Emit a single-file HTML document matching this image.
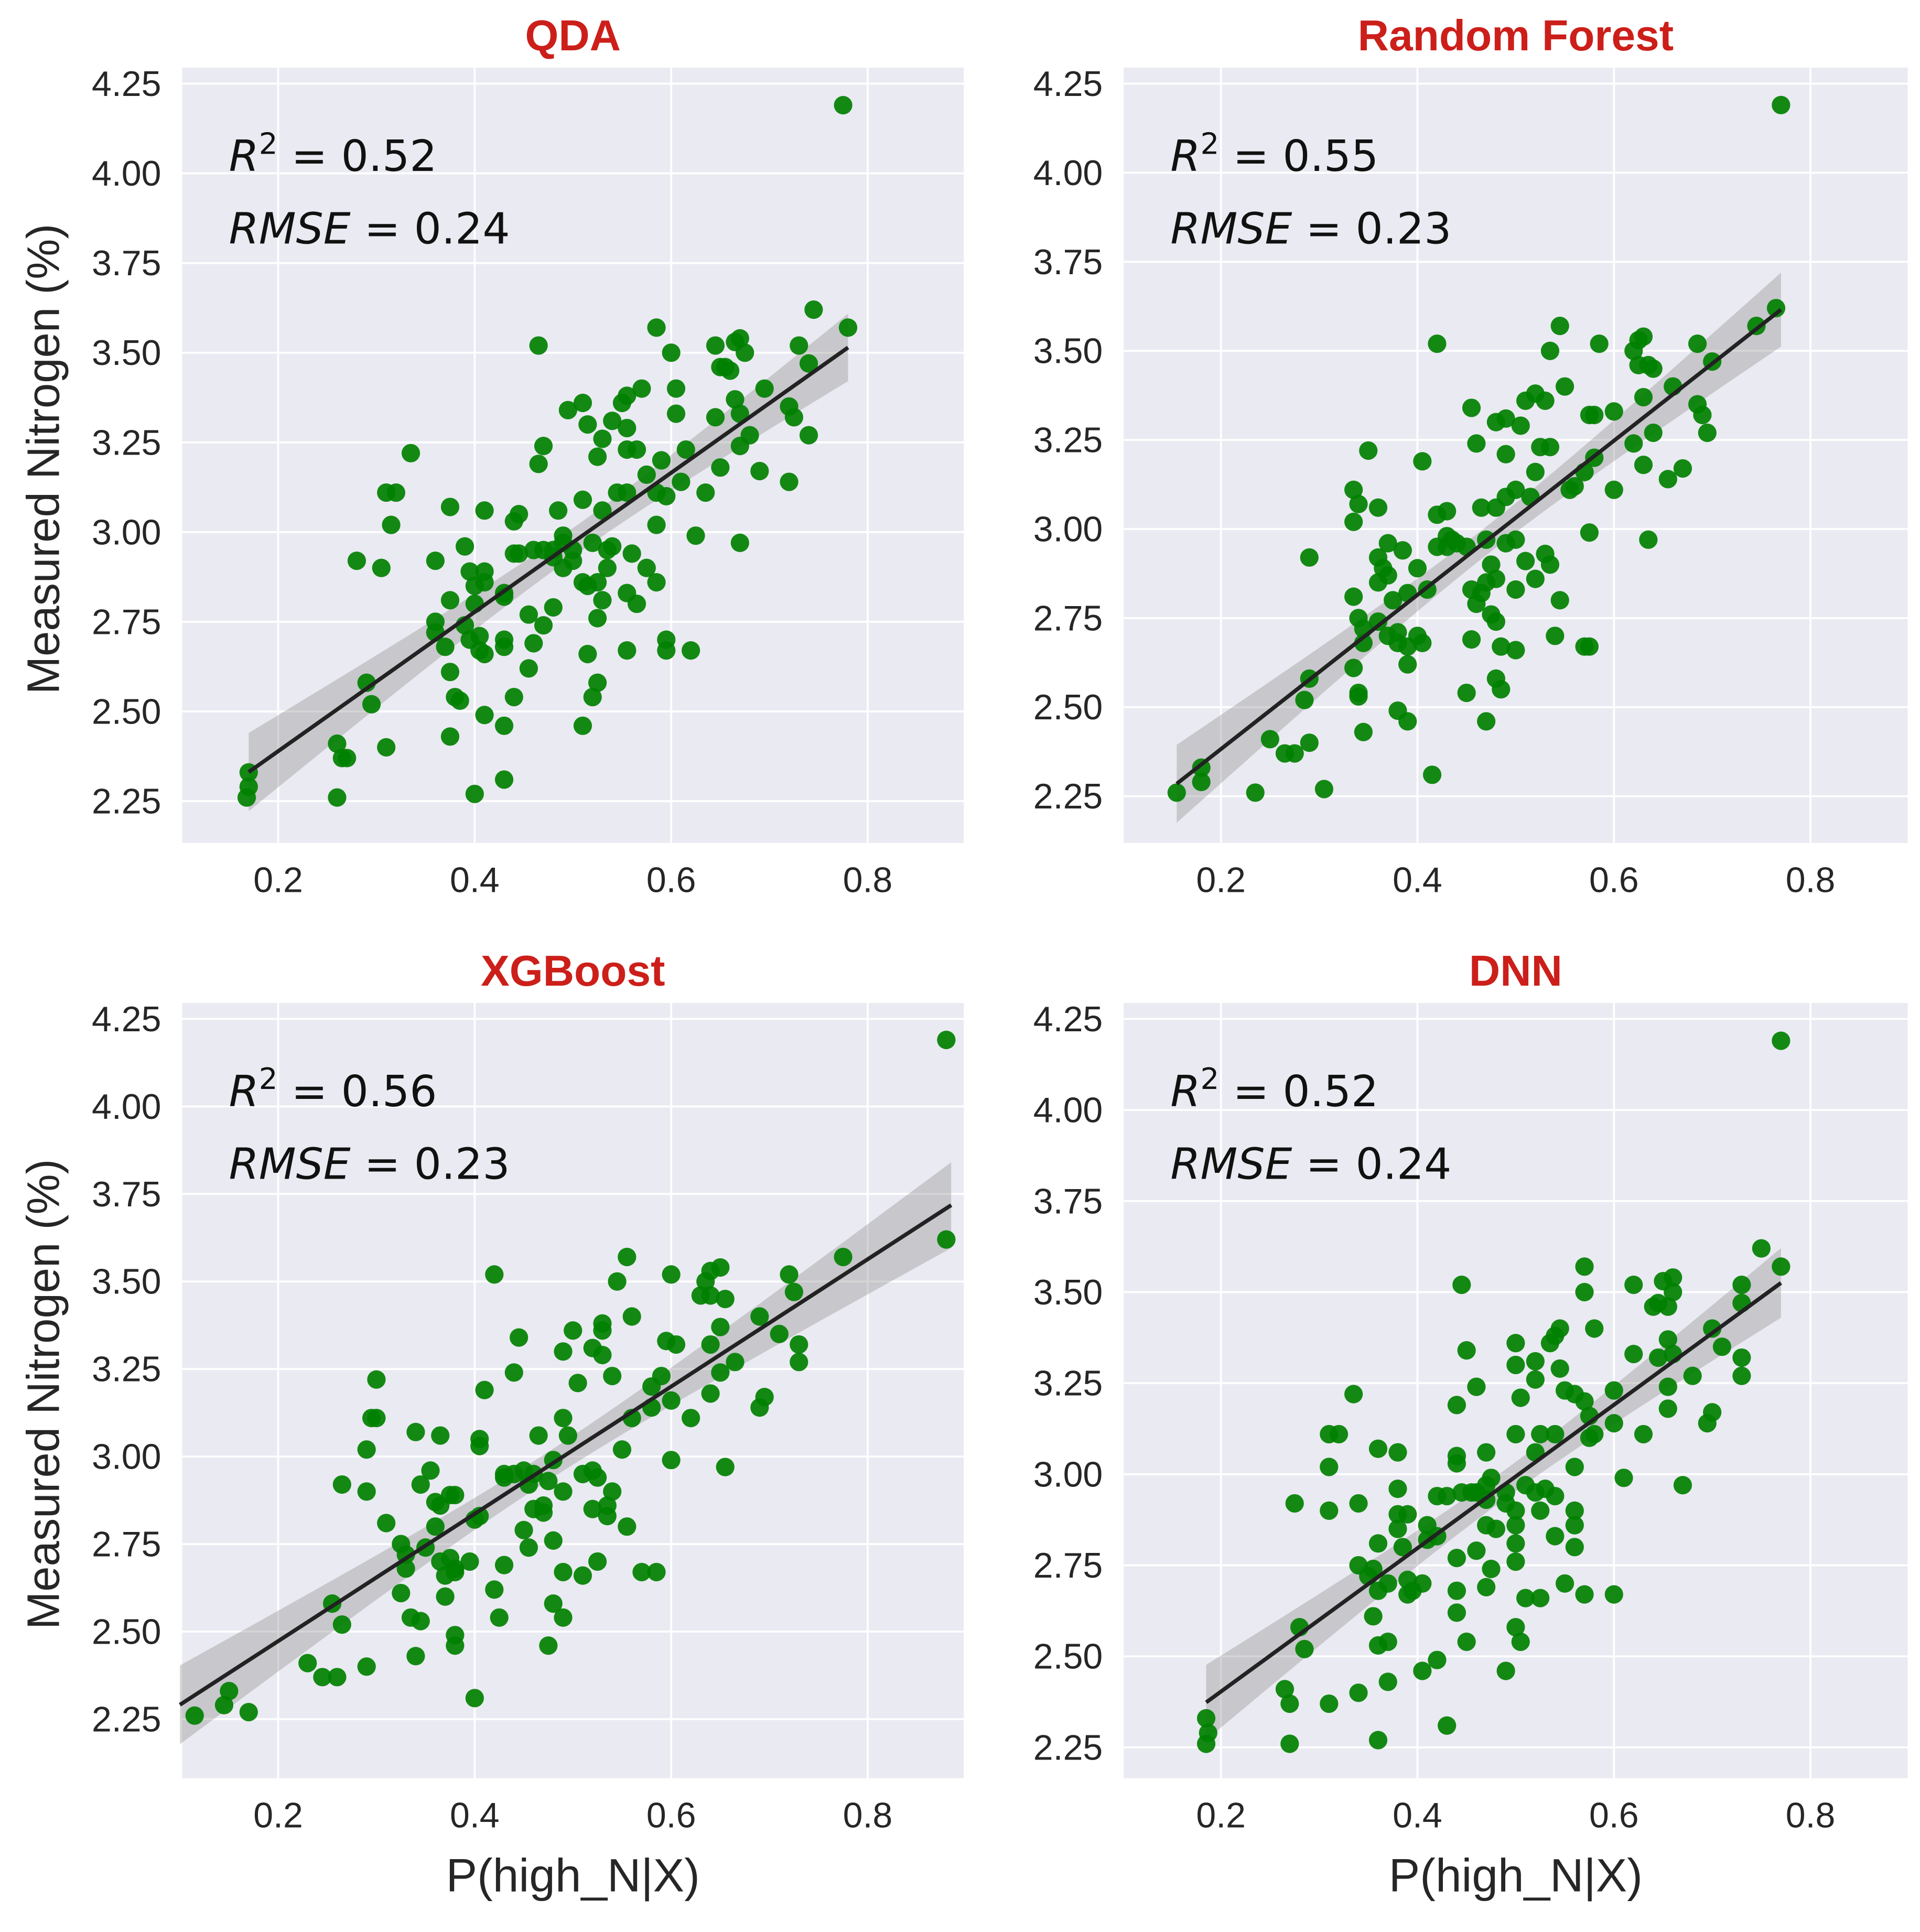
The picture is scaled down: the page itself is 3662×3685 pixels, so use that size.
<!DOCTYPE html>
<html><head><meta charset="utf-8"><style>
html,body{margin:0;padding:0;background:#fff}
svg{display:block}
text{font-family:"Liberation Sans","DejaVu Sans",sans-serif}
text.ann{font-family:"DejaVu Sans",sans-serif}
</style></head><body>
<svg id="fig" width="3662" height="3685" viewBox="0 0 1560 1570" preserveAspectRatio="none" xmlns="http://www.w3.org/2000/svg"></svg>
<script>
const qdaPts=[[0.775,4.19],[0.745,3.62],[0.78,3.57],[0.585,3.57],[0.465,3.52],[0.645,3.52],[0.665,3.53],[0.67,3.54],[0.675,3.50],[0.6,3.50],[0.73,3.52],[0.74,3.47],[0.65,3.46],[0.66,3.45],[0.655,3.46],[0.695,3.40],[0.605,3.40],[0.57,3.40],[0.555,3.38],[0.55,3.36],[0.51,3.36],[0.495,3.34],[0.605,3.33],[0.645,3.32],[0.665,3.37],[0.67,3.33],[0.72,3.35],[0.725,3.32],[0.74,3.27],[0.515,3.30],[0.54,3.31],[0.555,3.29],[0.53,3.26],[0.68,3.27],[0.67,3.24],[0.615,3.23],[0.555,3.23],[0.565,3.23],[0.47,3.24],[0.525,3.21],[0.465,3.19],[0.59,3.20],[0.575,3.16],[0.65,3.18],[0.69,3.17],[0.72,3.14],[0.61,3.14],[0.585,3.11],[0.545,3.11],[0.555,3.11],[0.595,3.10],[0.635,3.11],[0.51,3.09],[0.335,3.22],[0.31,3.11],[0.32,3.11],[0.315,3.02],[0.375,3.07],[0.41,3.06],[0.445,3.05],[0.44,3.03],[0.485,3.06],[0.53,3.06],[0.585,3.02],[0.625,2.99],[0.67,2.97],[0.49,2.99],[0.49,2.97],[0.48,2.95],[0.46,2.95],[0.47,2.95],[0.5,2.95],[0.52,2.97],[0.535,2.95],[0.54,2.96],[0.56,2.94],[0.44,2.94],[0.445,2.94],[0.39,2.96],[0.28,2.92],[0.305,2.90],[0.36,2.92],[0.395,2.89],[0.41,2.89],[0.4,2.85],[0.41,2.86],[0.48,2.93],[0.5,2.92],[0.49,2.90],[0.535,2.90],[0.575,2.90],[0.585,2.86],[0.51,2.86],[0.515,2.85],[0.525,2.86],[0.53,2.81],[0.555,2.83],[0.565,2.80],[0.375,2.81],[0.4,2.80],[0.43,2.82],[0.43,2.83],[0.48,2.79],[0.455,2.77],[0.47,2.74],[0.36,2.75],[0.36,2.72],[0.39,2.74],[0.395,2.70],[0.405,2.71],[0.405,2.67],[0.41,2.66],[0.43,2.70],[0.43,2.68],[0.37,2.68],[0.46,2.69],[0.525,2.76],[0.515,2.66],[0.555,2.67],[0.595,2.70],[0.595,2.67],[0.62,2.67],[0.375,2.61],[0.455,2.62],[0.38,2.54],[0.385,2.53],[0.44,2.54],[0.525,2.58],[0.52,2.54],[0.29,2.58],[0.295,2.52],[0.41,2.49],[0.43,2.46],[0.51,2.46],[0.375,2.43],[0.26,2.41],[0.265,2.37],[0.27,2.37],[0.31,2.40],[0.17,2.33],[0.17,2.29],[0.168,2.26],[0.26,2.26],[0.4,2.27],[0.43,2.31]];
const rfPts=[[0.77,4.19],[0.765,3.62],[0.745,3.57],[0.545,3.57],[0.42,3.52],[0.585,3.52],[0.625,3.53],[0.63,3.54],[0.62,3.50],[0.535,3.50],[0.685,3.52],[0.7,3.47],[0.625,3.46],[0.635,3.46],[0.64,3.45],[0.66,3.40],[0.55,3.40],[0.52,3.38],[0.51,3.36],[0.53,3.36],[0.455,3.34],[0.6,3.33],[0.575,3.32],[0.58,3.32],[0.63,3.37],[0.685,3.35],[0.69,3.32],[0.695,3.27],[0.48,3.30],[0.49,3.31],[0.505,3.29],[0.64,3.27],[0.62,3.24],[0.535,3.23],[0.525,3.23],[0.46,3.24],[0.49,3.21],[0.405,3.19],[0.58,3.20],[0.57,3.16],[0.63,3.18],[0.67,3.17],[0.655,3.14],[0.6,3.11],[0.555,3.11],[0.56,3.12],[0.5,3.11],[0.52,3.16],[0.515,3.09],[0.35,3.22],[0.335,3.11],[0.34,3.07],[0.335,3.02],[0.36,3.06],[0.42,3.04],[0.43,3.05],[0.465,3.06],[0.48,3.06],[0.49,3.09],[0.575,2.99],[0.635,2.97],[0.43,2.98],[0.44,2.96],[0.45,2.95],[0.42,2.95],[0.47,2.97],[0.49,2.96],[0.5,2.97],[0.53,2.93],[0.37,2.96],[0.385,2.94],[0.29,2.92],[0.36,2.92],[0.365,2.89],[0.37,2.87],[0.36,2.85],[0.4,2.89],[0.43,2.95],[0.435,2.97],[0.475,2.90],[0.51,2.91],[0.535,2.90],[0.52,2.86],[0.48,2.86],[0.47,2.85],[0.465,2.82],[0.46,2.79],[0.455,2.83],[0.5,2.83],[0.545,2.80],[0.335,2.81],[0.375,2.80],[0.39,2.82],[0.41,2.83],[0.475,2.76],[0.48,2.74],[0.455,2.69],[0.34,2.75],[0.345,2.72],[0.36,2.74],[0.37,2.70],[0.38,2.71],[0.38,2.68],[0.39,2.67],[0.4,2.70],[0.405,2.68],[0.345,2.68],[0.5,2.66],[0.485,2.67],[0.57,2.67],[0.575,2.67],[0.54,2.70],[0.39,2.62],[0.335,2.61],[0.48,2.58],[0.485,2.55],[0.45,2.54],[0.29,2.58],[0.285,2.52],[0.38,2.49],[0.39,2.46],[0.47,2.46],[0.345,2.43],[0.25,2.41],[0.265,2.37],[0.275,2.37],[0.29,2.40],[0.18,2.33],[0.18,2.29],[0.155,2.26],[0.235,2.26],[0.305,2.27],[0.415,2.31],[0.34,2.53],[0.34,2.54]];
const xgbPts=[[0.88,4.19],[0.88,3.62],[0.775,3.57],[0.555,3.57],[0.42,3.52],[0.6,3.52],[0.64,3.53],[0.65,3.54],[0.635,3.50],[0.545,3.50],[0.72,3.52],[0.725,3.47],[0.63,3.46],[0.64,3.46],[0.655,3.45],[0.69,3.40],[0.56,3.40],[0.53,3.38],[0.53,3.36],[0.5,3.36],[0.445,3.34],[0.595,3.33],[0.64,3.32],[0.605,3.32],[0.65,3.37],[0.71,3.35],[0.73,3.32],[0.73,3.27],[0.49,3.30],[0.52,3.31],[0.53,3.29],[0.665,3.27],[0.65,3.24],[0.59,3.23],[0.54,3.23],[0.44,3.24],[0.505,3.21],[0.41,3.19],[0.58,3.20],[0.6,3.16],[0.58,3.14],[0.64,3.18],[0.695,3.17],[0.69,3.14],[0.62,3.11],[0.56,3.11],[0.49,3.11],[0.3,3.22],[0.295,3.11],[0.3,3.11],[0.29,3.02],[0.34,3.07],[0.365,3.06],[0.405,3.05],[0.405,3.03],[0.465,3.06],[0.495,3.06],[0.55,3.02],[0.6,2.99],[0.655,2.97],[0.48,2.99],[0.45,2.96],[0.44,2.95],[0.43,2.95],[0.46,2.95],[0.51,2.95],[0.52,2.96],[0.525,2.94],[0.355,2.96],[0.265,2.92],[0.29,2.90],[0.345,2.92],[0.38,2.89],[0.375,2.89],[0.36,2.87],[0.365,2.86],[0.43,2.94],[0.475,2.93],[0.455,2.92],[0.49,2.90],[0.54,2.90],[0.535,2.86],[0.47,2.86],[0.46,2.85],[0.47,2.84],[0.52,2.85],[0.535,2.83],[0.555,2.80],[0.31,2.81],[0.36,2.80],[0.4,2.82],[0.405,2.83],[0.45,2.79],[0.48,2.76],[0.455,2.74],[0.325,2.75],[0.33,2.72],[0.35,2.74],[0.365,2.70],[0.375,2.71],[0.38,2.68],[0.38,2.67],[0.395,2.70],[0.43,2.69],[0.33,2.68],[0.49,2.67],[0.51,2.66],[0.57,2.67],[0.585,2.67],[0.525,2.70],[0.37,2.66],[0.325,2.61],[0.42,2.62],[0.335,2.54],[0.345,2.53],[0.425,2.54],[0.48,2.58],[0.49,2.54],[0.255,2.58],[0.265,2.52],[0.38,2.49],[0.38,2.46],[0.475,2.46],[0.34,2.43],[0.23,2.41],[0.245,2.37],[0.26,2.37],[0.29,2.40],[0.15,2.33],[0.145,2.29],[0.115,2.26],[0.17,2.27],[0.4,2.31],[0.37,2.60]];
const dnnPts=[[0.77,4.19],[0.75,3.62],[0.77,3.57],[0.57,3.57],[0.445,3.52],[0.62,3.52],[0.65,3.53],[0.66,3.54],[0.66,3.50],[0.57,3.50],[0.73,3.52],[0.73,3.47],[0.64,3.46],[0.645,3.47],[0.655,3.46],[0.70,3.40],[0.58,3.40],[0.545,3.40],[0.54,3.38],[0.535,3.36],[0.5,3.36],[0.45,3.34],[0.62,3.33],[0.645,3.32],[0.655,3.37],[0.66,3.33],[0.71,3.35],[0.73,3.32],[0.73,3.27],[0.5,3.30],[0.52,3.31],[0.545,3.29],[0.52,3.26],[0.68,3.27],[0.655,3.24],[0.6,3.23],[0.55,3.23],[0.56,3.22],[0.46,3.24],[0.505,3.21],[0.44,3.19],[0.57,3.20],[0.575,3.16],[0.655,3.18],[0.7,3.17],[0.695,3.14],[0.6,3.14],[0.58,3.11],[0.525,3.11],[0.54,3.11],[0.575,3.10],[0.63,3.11],[0.5,3.11],[0.335,3.22],[0.31,3.11],[0.32,3.11],[0.31,3.02],[0.36,3.07],[0.38,3.06],[0.44,3.05],[0.44,3.03],[0.47,3.06],[0.52,3.06],[0.56,3.02],[0.61,2.99],[0.67,2.97],[0.475,2.99],[0.47,2.97],[0.46,2.95],[0.445,2.95],[0.455,2.95],[0.49,2.95],[0.51,2.97],[0.52,2.95],[0.53,2.96],[0.54,2.94],[0.42,2.94],[0.43,2.94],[0.38,2.96],[0.275,2.92],[0.31,2.90],[0.34,2.92],[0.38,2.89],[0.39,2.89],[0.38,2.85],[0.41,2.86],[0.47,2.93],[0.49,2.92],[0.5,2.90],[0.525,2.90],[0.56,2.90],[0.56,2.86],[0.47,2.86],[0.48,2.85],[0.5,2.86],[0.5,2.81],[0.54,2.83],[0.56,2.80],[0.36,2.81],[0.385,2.80],[0.41,2.82],[0.42,2.83],[0.44,2.77],[0.475,2.74],[0.46,2.79],[0.34,2.75],[0.35,2.72],[0.355,2.74],[0.37,2.70],[0.39,2.71],[0.395,2.68],[0.39,2.67],[0.405,2.70],[0.44,2.68],[0.36,2.68],[0.47,2.69],[0.5,2.76],[0.51,2.66],[0.525,2.66],[0.55,2.70],[0.57,2.67],[0.6,2.67],[0.355,2.61],[0.44,2.62],[0.37,2.54],[0.36,2.53],[0.45,2.54],[0.5,2.58],[0.505,2.54],[0.28,2.58],[0.285,2.52],[0.405,2.46],[0.42,2.49],[0.49,2.46],[0.37,2.43],[0.265,2.41],[0.27,2.37],[0.31,2.37],[0.34,2.40],[0.185,2.33],[0.187,2.29],[0.185,2.26],[0.27,2.26],[0.36,2.27],[0.43,2.31]];
const titles=["QDA","Random Forest","XGBoost","DNN"];
const r2Labels=["0.52","0.55","0.56","0.52"];
const rmseLabels=["0.24","0.23","0.23","0.24"];
const xTicks=[0.2,0.4,0.6,0.8];
const yTicks=[2.25,2.5,2.75,3.0,3.25,3.5,3.75,4.0,4.25];

const NS="http://www.w3.org/2000/svg";
const svg=document.getElementById('fig');
function el(tag,attrs,parent){const e=document.createElementNS(NS,tag);for(const k in attrs)e.setAttribute(k,attrs[k]);(parent||svg).appendChild(e);return e;}

const panels=[
 {pts:qdaPts,x0:148,x1:783,y0:55,y1:685,px02:226,px08:705,py425:68,py225:651,xl:0.17,xr:0.78},
 {pts:rfPts,x0:913,x1:1550,y0:55,y1:685,px02:992,px08:1471,py425:68,py225:647,xl:0.155,xr:0.77},
 {pts:xgbPts,x0:148,x1:783,y0:815,y1:1445,px02:226,px08:705,py425:828,py225:1397,xl:0.1,xr:0.885},
 {pts:dnnPts,x0:913,x1:1550,y0:815,y1:1445,px02:992,px08:1471,py425:828,py225:1420,xl:0.185,xr:0.77}
];

panels.forEach((p,i)=>{
 const g=el('g',{});
 
 
 const sx=v=>p.px02+(v-0.2)*(p.px08-p.px02)/0.6;
 const sy=v=>p.py225-(v-2.25)*(p.py225-p.py425)/2.0;
 const bg=el('rect',{x:p.x0,y:p.y0,width:p.x1-p.x0,height:p.y1-p.y0,fill:'#eaeaf2'},g);
 
 
 xTicks.forEach(t=>{
  const gl=el('line',{x1:sx(t),x2:sx(t),y1:p.y0,y2:p.y1,stroke:'#fff','stroke-width':1.6},g);
  
  
  const tl=el('text',{x:sx(t),y:p.y1+40,'text-anchor':'middle','font-size':29,fill:'#262626'},g);
  tl.textContent=t.toFixed(1);
  
  
 });
 yTicks.forEach(t=>{
  const gl=el('line',{x1:p.x0,x2:p.x1,y1:sy(t),y2:sy(t),stroke:'#fff','stroke-width':1.6},g);
  
  
  const tl=el('text',{x:p.x0-17,y:sy(t)+10,'text-anchor':'end','font-size':29,fill:'#262626'},g);
  tl.textContent=t.toFixed(2);
  
  
 });
 const n=p.pts.length;let mx=0,my=0;p.pts.forEach(q=>{mx+=q[0];my+=q[1];});mx/=n;my/=n;
 let sxx=0,sxy=0;p.pts.forEach(q=>{sxx+=(q[0]-mx)**2;sxy+=(q[0]-mx)*(q[1]-my);});
 const b=sxy/sxx,a=my-b*mx;let sse=0;p.pts.forEach(q=>{sse+=(q[1]-a-b*q[0])**2;});
 const s=Math.sqrt(sse/(n-2));
 const up=[],lo=[];
 for(let k=0;k<=40;k++){const x=p.xl+(p.xr-p.xl)*k/40;const yh=a+b*x;const h=1.98*s*Math.sqrt(1/n+(x-mx)**2/sxx);up.push(sx(x)+','+sy(yh+h));lo.unshift(sx(x)+','+sy(yh-h));}
 const band=el('polygon',{points:up.concat(lo).join(' '),fill:'#888','fill-opacity':0.35},g);
 
 
 p.pts.forEach(q=>{
  const c=el('circle',{cx:sx(q[0]),cy:sy(q[1]),r:7.5,fill:'#008000','fill-opacity':0.92},g);
  
  
 });
 const ln=el('line',{x1:sx(p.xl),y1:sy(a+b*p.xl),x2:sx(p.xr),y2:sy(a+b*p.xr),stroke:'#222','stroke-width':3.2},g);
 
 
 const cx=(p.x0+p.x1)/2;
 const tt=el('text',{x:cx,y:p.y0-14,'text-anchor':'middle','font-size':35,'font-weight':'bold',fill:'#cc1f1a'},g);
 tt.textContent=titles[i];
 
 
 const r2=el('text',{class:'ann',x:p.x0+38,y:p.y0+84,'font-size':35,fill:'#111'},g);
 r2.innerHTML='<tspan font-style="italic">R</tspan><tspan dy="-14" font-size="24">2</tspan><tspan dy="14"> = '+r2Labels[i]+'</tspan>';
 
 
 const rm=el('text',{class:'ann',x:p.x0+38,y:p.y0+143,'font-size':35,fill:'#111'},g);
 rm.innerHTML='<tspan font-style="italic">RMSE</tspan> = '+rmseLabels[i];
 
 
 if(i%2===0){
  const yl=el('text',{x:0,y:0,'text-anchor':'middle','font-size':37,fill:'#262626',transform:'translate(48,'+((p.y0+p.y1)/2+3)+') rotate(-90)'},g);
  yl.textContent='Measured Nitrogen (%)';
  
  
 }
 if(i>=2){
  const xl=el('text',{x:cx,y:1537,'text-anchor':'middle','font-size':38,fill:'#262626'},g);
  xl.textContent='P(high_N|X)';
  
  
 }
});
</script>
</body></html>
